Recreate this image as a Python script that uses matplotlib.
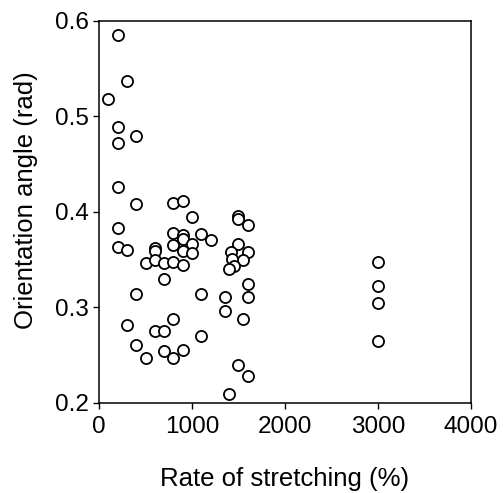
import matplotlib
matplotlib.use("Agg")
import matplotlib.pyplot as plt

plt.rcParams['font.family'] = ['Liberation Sans', 'DejaVu Sans']

# --- data ---
stretch = [200, 300, 100, 200, 200, 400, 200, 400, 800, 900,
           1000, 1500, 1500, 1600, 200, 800, 900, 1100, 1200, 900,
           800, 1000, 600, 600, 200, 300, 900, 1000, 1500, 1420, 1600,
           1550, 1430, 1450, 1400, 500, 600, 700, 800, 900, 700,
           400, 1100, 1350, 1600, 1600, 1350, 300, 800, 600, 700,
           1550, 1100, 400, 500, 700, 800, 900, 1500, 1600, 1400,
           3000, 3000, 3000, 3000]
angle = [0.585, 0.537, 0.518, 0.489, 0.472, 0.479, 0.426, 0.408, 0.409, 0.411,
         0.394, 0.396, 0.392, 0.386, 0.383, 0.378, 0.376, 0.377, 0.370, 0.371,
         0.365, 0.366, 0.362, 0.359, 0.363, 0.360, 0.359, 0.357, 0.366, 0.358, 0.358,
         0.350, 0.351, 0.343, 0.340, 0.346, 0.349, 0.346, 0.347, 0.344, 0.330,
         0.314, 0.314, 0.311, 0.324, 0.311, 0.296, 0.281, 0.288, 0.275, 0.275,
         0.288, 0.270, 0.260, 0.247, 0.254, 0.247, 0.255, 0.240, 0.228, 0.209,
         0.347, 0.322, 0.304, 0.265]

xticks = [0, 1000, 2000, 3000, 4000]
yticks = [0.2, 0.3, 0.4, 0.5, 0.6]

fig = plt.figure(figsize=(5.03, 4.93), dpi=100)
ax = fig.add_axes([0.197, 0.183, 0.739, 0.775])

ax.scatter(stretch, angle, s=64, facecolors='white', edgecolors='black',
           linewidths=1.3, zorder=3)

ax.set_xlim(0, 4000)
ax.set_ylim(0.2, 0.6)
ax.set_xticks(xticks)
ax.set_yticks(yticks)
ax.set_yticklabels([f'{v:.1f}' for v in yticks])
ax.tick_params(direction='out', length=4.5, width=1, labelsize=17.5, pad=3,
               top=False, right=False)
ax.tick_params(axis='x', pad=5)
for sp in ax.spines.values():
    sp.set_linewidth(1.1)

ax.set_xlabel('Rate of stretching (%)', fontsize=18.5)
ax.set_ylabel('Orientation angle (rad)', fontsize=18.5)
ax.xaxis.set_label_coords(0.5, -0.168)
ax.yaxis.set_label_coords(-0.164, 0.53)

plt.savefig('out.png', dpi=100)
